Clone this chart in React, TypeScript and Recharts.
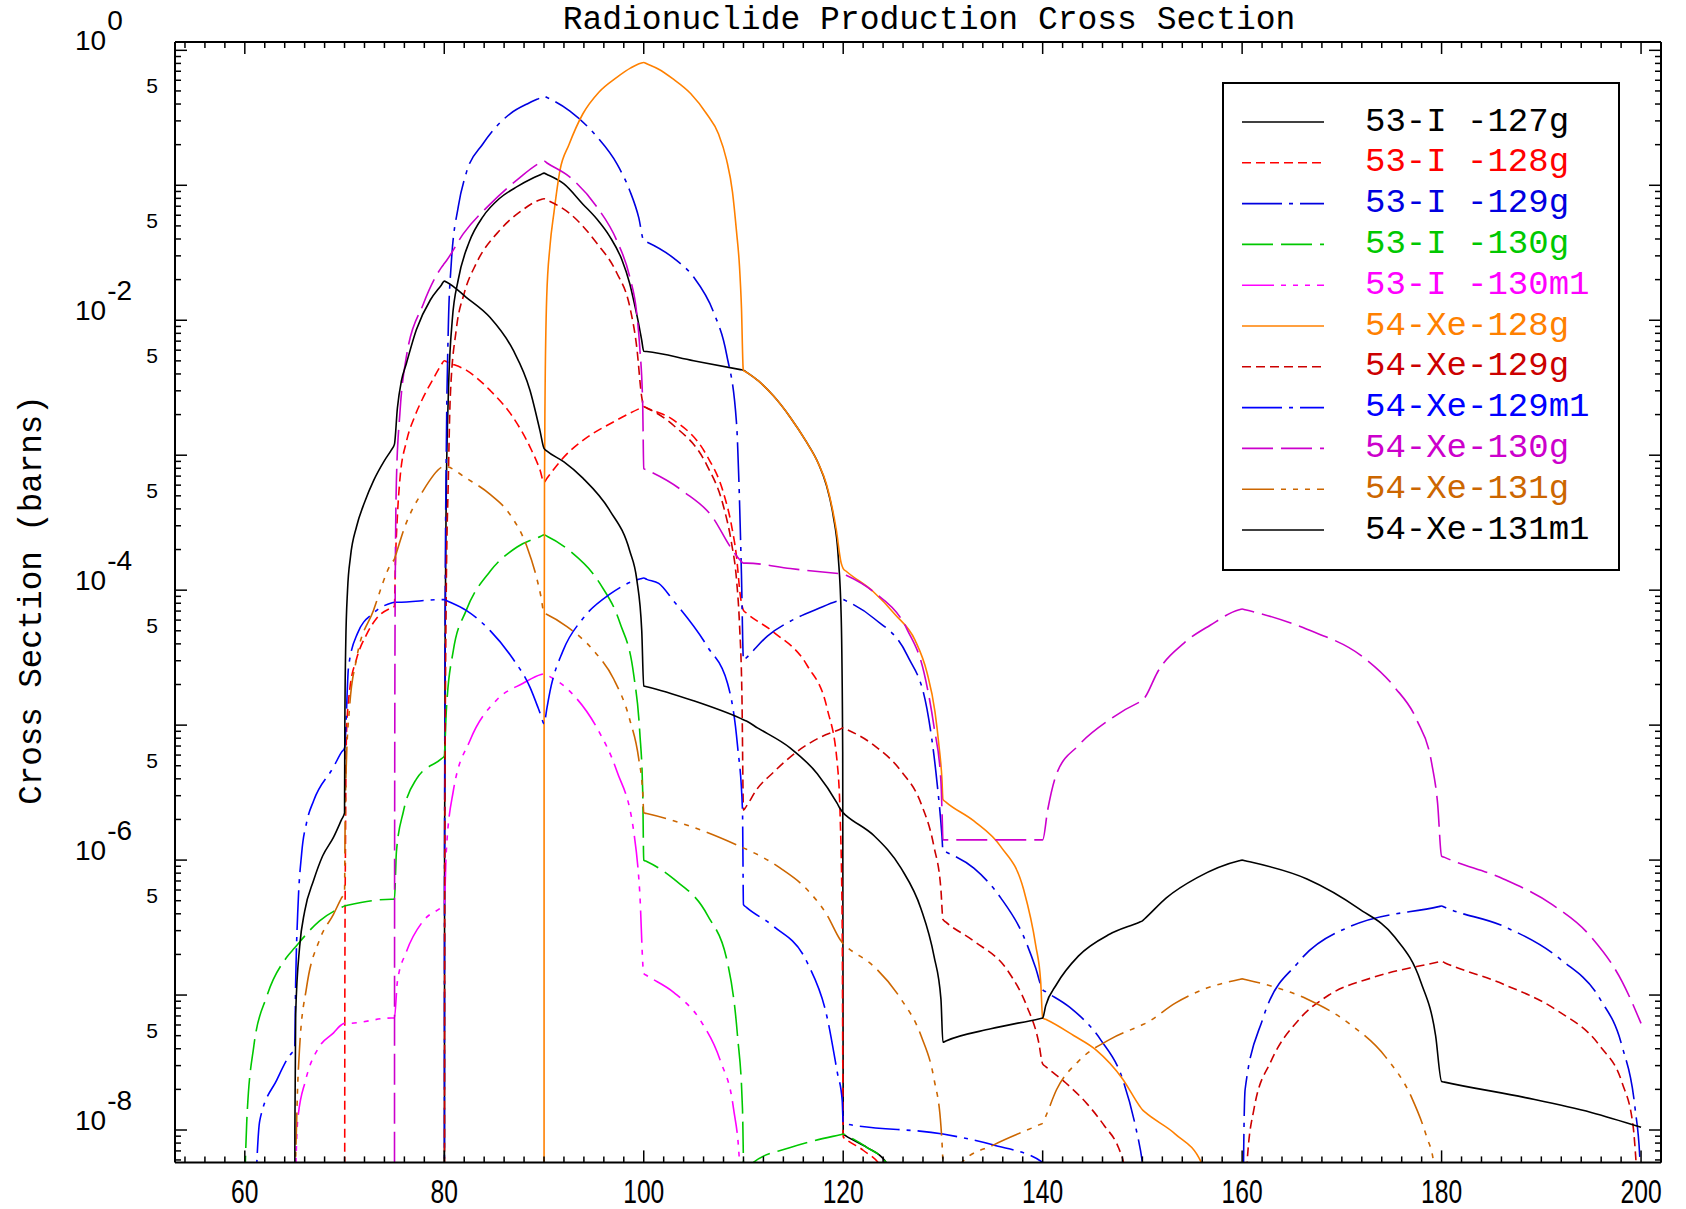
import React from "react";
import { LineChart, Line, XAxis, YAxis, Legend } from "recharts";

// Energy vs log10(cross section in barns).
// A value of -12 sits far below the axis floor (clipped) and only closes a curve off.
const I127G = [
  [80, -12], [80.03, -6], [80.1, -4.2], [80.2, -3.3], [80.4, -2.57], [80.8, -2.0], [81.4, -1.7], [82.5, -1.42],
  [83.9, -1.23], [85.5, -1.1], [87.3, -1.01], [88.8, -0.95], [89.7, -0.92], [90, -0.91],
  [90.3, -0.92], [92, -0.99], [93.9, -1.14], [95.3, -1.25], [96.6, -1.38], [97.8, -1.55], [98.6, -1.73], [99.1, -1.89],
  [99.5, -2.03], [99.8, -2.15], [100, -2.23],
  [100.3, -2.232], [105, -2.3], [109.7, -2.366], [110, -2.37],
  [110.3, -2.385], [111.5, -2.45], [113, -2.56], [114.7, -2.72], [116.3, -2.9], [117.5, -3.06], [118.3, -3.22], [119, -3.45],
  [119.5, -3.75], [119.8, -4.2], [119.95, -5.2], [120, -8.03],
  [120.3, -8.045], [122.4, -8.13], [124.3, -8.24], [125.5, -8.5],
];

const I128G = [
  [70, -12], [70.03, -7], [70.1, -5.8], [70.2, -5.05], [70.5, -4.75], [71.2, -4.51], [72.2, -4.33], [73.2, -4.21],
  [74.7, -4.13], [75, -4.12],
  [75.1, -3.8], [75.3, -3.45], [75.55, -3.18], [76.2, -2.9], [77, -2.72], [77.9, -2.57], [79, -2.42], [79.7, -2.33], [80, -2.3],
  [80.3, -2.31], [82.2, -2.37], [84.6, -2.52], [86.9, -2.72], [88.6, -2.94], [89.6, -3.11], [90, -3.2],
  [90.3, -3.17], [92.3, -2.99], [93.9, -2.89], [97.3, -2.74], [99.7, -2.65], [100, -2.64],
  [100.3, -2.65], [103, -2.74], [106.3, -3.0], [108, -3.28], [108.8, -3.52], [109.3, -3.75], [109.7, -4.05], [110, -4.15],
  [110.3, -4.17], [113, -4.31], [116.4, -4.56], [118.4, -4.88], [119.4, -5.28], [119.7, -5.69], [119.9, -6.49], [120, -8.05],
  [120.3, -8.07], [122, -8.15], [124, -8.3], [125, -8.5],
];

const I129G = [
  [80, -12], [80.03, -6], [80.1, -4], [80.2, -3], [80.4, -2.07], [80.7, -1.58], [81.4, -1.16], [82.2, -0.91],
  [83.9, -0.69], [86.6, -0.47], [88.5, -0.39], [89.7, -0.35], [90, -0.34],
  [90.3, -0.35], [92.6, -0.45], [95.3, -0.64], [97.3, -0.84], [98.6, -1.04], [99.5, -1.24], [100, -1.41],
  [100.3, -1.42], [103, -1.54], [105, -1.68], [107, -1.94], [108.3, -2.25], [109.3, -2.76], [109.6, -3.33], [109.8, -3.89], [110, -4.52],
  [110.3, -4.5], [112.4, -4.34], [114.7, -4.23], [117.4, -4.14], [119.7, -4.075], [120, -4.07],
  [120.3, -4.08], [123.1, -4.21], [126.4, -4.48], [128.4, -4.88], [129.4, -5.42], [129.9, -5.82], [130, -5.93],
  [130.3, -5.94], [133.1, -6.06], [135.8, -6.28], [138, -6.55], [139.3, -6.8], [140, -6.96],
  [140.3, -6.975], [142.7, -7.09], [145.8, -7.33], [148, -7.62], [149.3, -7.97], [150, -8.24], [151, -9],
  [160, -12], [160.05, -9], [160.3, -7.7], [162.1, -7.17], [165.6, -6.76], [170.9, -6.49], [179.7, -6.345], [180, -6.34],
  [180.3, -6.35], [186.2, -6.49], [192, -6.74], [195.9, -7.03], [198.1, -7.38], [199.4, -7.84], [199.9, -8.24], [200, -9],
];

const I130G = [
  [59.8, -9], [60.2, -7.93], [60.9, -7.38], [62.2, -7.01], [64.2, -6.72], [65, -6.65], [67.5, -6.45],
  [69.7, -6.35], [70, -6.34], [70.3, -6.335], [74.7, -6.29], [75, -6.29],
  [75.2, -5.94], [75.9, -5.64], [77.2, -5.4], [79.7, -5.25], [80, -5.23],
  [80.2, -4.9], [80.9, -4.45], [82.2, -4.15], [84.6, -3.86], [87.3, -3.68], [89.7, -3.6], [90, -3.59],
  [90.3, -3.6], [92.6, -3.71], [95.6, -3.95], [97.6, -4.24], [99, -4.63], [99.6, -5.05], [99.9, -5.5], [100, -6.0],
  [100.3, -6.01], [103, -6.14], [106.4, -6.41], [108.4, -6.76], [109.4, -7.3], [109.9, -7.84], [110, -8.24], [110.2, -9],
  [111, -8.24], [114.7, -8.13], [119.7, -8.035], [120, -8.03],
  [120.3, -8.04], [122.4, -8.13], [124.3, -8.24], [125, -8.4],
];

const I130M1 = [
  [64.9, -9], [65.3, -7.93], [66.1, -7.63], [67.5, -7.38], [68.9, -7.28], [69.7, -7.22], [70, -7.21],
  [70.3, -7.21], [74.7, -7.17], [75, -7.17],
  [75.3, -6.9], [76.2, -6.68], [77.9, -6.45], [79.7, -6.35], [80, -6.33],
  [80.2, -5.94], [80.9, -5.49], [82.6, -5.11], [85.3, -4.81], [87.9, -4.69], [89.7, -4.625], [90, -4.62],
  [90.3, -4.63], [92.6, -4.75], [95.3, -5.02], [97.3, -5.34], [99, -5.79], [99.6, -6.24], [100, -6.84],
  [100.3, -6.855], [103, -6.98], [105.7, -7.19], [107.7, -7.49], [109, -7.84], [109.6, -8.24], [110, -9],
];

const XE128G = [
  [90, -12], [90.01, -5], [90.05, -3.2], [90.1, -2.6], [90.27, -1.83], [90.6, -1.45], [91, -1.2], [91.6, -0.89],
  [92.5, -0.7], [93.9, -0.47], [95.5, -0.31], [97.3, -0.2], [98.7, -0.13], [99.7, -0.095], [100, -0.09],
  [100.3, -0.1], [101.5, -0.14], [102.9, -0.21], [104.7, -0.32], [106.3, -0.47], [107.5, -0.62], [108.3, -0.81], [108.9, -1.05],
  [109.3, -1.34], [109.6, -1.6], [109.8, -1.91], [109.97, -2.36], [110, -2.37],
  [110.3, -2.385], [111.5, -2.45], [113, -2.56], [114.7, -2.72], [116.3, -2.9], [117.5, -3.06], [118.3, -3.21], [119.3, -3.55],
  [119.8, -3.8], [120, -3.84],
  [120.3, -3.86], [123, -4.01], [125.2, -4.18], [127.2, -4.37], [128.4, -4.61], [129.2, -4.9], [129.6, -5.15], [129.9, -5.4], [130, -5.55],
  [130.3, -5.57], [133.1, -5.71], [135.8, -5.9], [138.1, -6.22], [139.3, -6.63], [139.8, -6.9], [140, -7.17],
  [140.3, -7.18], [143.1, -7.3], [145.4, -7.41], [148, -7.62], [149.7, -7.82], [150, -7.85],
  [150.3, -7.87], [153.3, -8.03], [155.9, -8.24], [157, -8.6],
];

const XE129G = [
  [80, -12], [80.05, -6], [80.2, -4], [80.4, -3.2], [80.6, -2.57], [81.2, -2.07], [82, -1.8], [83.2, -1.58],
  [85.6, -1.33], [87.9, -1.18], [89.7, -1.105], [90, -1.1],
  [90.3, -1.11], [92.6, -1.21], [95.3, -1.43], [97.3, -1.65], [98.6, -1.9], [99.3, -2.2], [99.8, -2.57], [100, -2.64],
  [100.3, -2.65], [103, -2.78], [106.3, -3.07], [108, -3.38], [108.8, -3.65], [109.3, -3.92], [109.6, -4.25], [109.85, -4.8], [110, -5.63],
  [110.3, -5.6], [111.3, -5.48], [113, -5.35], [115.3, -5.2], [117.7, -5.09], [119.7, -5.03], [120, -5.02],
  [120.3, -5.03], [123.1, -5.15], [125.8, -5.34], [127.8, -5.58], [129.1, -5.9], [129.8, -6.22], [130, -6.44],
  [130.3, -6.46], [133.1, -6.6], [136.5, -6.82], [138.4, -7.08], [139.6, -7.35], [140, -7.51],
  [140.3, -7.53], [142.3, -7.65], [144.5, -7.81], [146.2, -7.97], [147.6, -8.13], [148.1, -8.24], [149, -8.8],
  [160, -12], [160.1, -9], [160.5, -8.24], [161.2, -7.84], [162.9, -7.49], [165.6, -7.19], [168.7, -7.0],
  [173.1, -6.87], [179.7, -6.755], [180, -6.75],
  [180.3, -6.76], [186.2, -6.92], [191.5, -7.11], [195.9, -7.38], [198.1, -7.65], [199.2, -7.97], [199.5, -8.24], [200, -9],
];

const XE129M1 = [
  [61, -8.6], [61.5, -7.93], [63.2, -7.63], [64.7, -7.43], [65, -7.41],
  [65.1, -6.9], [65.3, -6.4], [65.7, -5.95], [66.2, -5.72], [66.9, -5.56], [68.9, -5.31], [69.7, -5.2], [70, -5.17],
  [70.4, -4.57], [71.3, -4.32], [72.9, -4.17], [74.7, -4.095], [75, -4.09],
  [75.3, -4.09], [79.7, -4.07], [80, -4.07],
  [80.3, -4.08], [82.2, -4.15], [84.6, -4.3], [86.9, -4.51], [88.6, -4.72], [89.4, -4.87], [89.7, -4.93], [90, -4.99],
  [90.3, -4.87], [90.6, -4.75], [91.9, -4.45], [93.9, -4.21], [96.6, -4.03], [99.7, -3.915], [100, -3.91],
  [100.3, -3.92], [101.5, -3.95], [103, -4.08], [106.4, -4.42], [108.4, -4.69], [109.4, -5.15], [109.9, -5.63], [110, -6.33],
  [110.3, -6.35], [113, -6.49], [116.4, -6.76], [118.4, -7.17], [119.4, -7.57], [119.9, -7.78], [120, -7.95],
  [120.3, -7.955], [130, -8.03], [135, -8.11], [140, -8.24], [142, -8.6],
];

const XE130G = [
  [75, -12], [75.02, -6], [75.08, -4], [75.2, -3.19], [75.55, -2.69], [76.2, -2.27], [77.9, -1.88], [79.7, -1.61], [80, -1.58],
  [80.3, -1.55], [81.9, -1.36], [84.6, -1.14], [87.3, -0.96], [89.7, -0.83], [90, -0.82],
  [90.3, -0.835], [92.6, -0.94], [95.3, -1.16], [97.3, -1.41], [98.6, -1.68], [99.3, -1.95], [99.6, -2.2], [99.9, -2.64], [100, -3.1],
  [100.3, -3.11], [104, -3.27], [107, -3.47], [108.6, -3.67], [109.7, -3.78], [110, -3.8],
  [110.3, -3.8], [114.7, -3.84], [119.7, -3.878], [120, -3.88],
  [120.3, -3.89], [123, -4.01], [126.4, -4.29], [128.1, -4.61], [129.1, -5.01], [129.8, -5.42], [129.93, -5.69], [130, -5.85],
  [139.7, -5.85], [140, -5.85],
  [140.5, -5.63], [141.4, -5.36], [143.6, -5.15], [146.7, -4.96], [149.7, -4.83], [150, -4.82],
  [150.3, -4.79], [151.5, -4.61], [154.2, -4.39], [156.8, -4.26], [159.7, -4.145], [160, -4.14],
  [160.3, -4.145], [166.5, -4.29], [172.2, -4.5], [175.3, -4.72], [177.5, -4.96], [179, -5.28], [179.6, -5.58], [180, -5.97],
  [180.3, -5.98], [186.2, -6.14], [191.1, -6.33], [195, -6.57], [198.1, -6.9], [200, -7.21],
];

const XE131G = [
  [65, -12], [65.05, -8.5], [65.2, -7.93], [65.5, -7.38], [66.2, -6.94], [67.5, -6.59], [68.9, -6.4], [69.7, -6.28], [70, -6.24],
  [70.05, -5.8], [70.15, -5.35], [70.5, -4.87], [71.2, -4.51], [72.9, -4.15], [74.7, -3.8], [75, -3.77],
  [75.3, -3.7], [75.9, -3.56], [77.9, -3.26], [79.7, -3.09], [80, -3.08],
  [80.3, -3.085], [82.2, -3.17], [84.6, -3.29], [86.6, -3.44], [88.3, -3.68], [89.3, -3.92], [89.7, -4.05], [90, -4.17],
  [90.3, -4.18], [92.3, -4.27], [95, -4.45], [97, -4.66], [98.6, -4.96], [99.5, -5.25], [99.9, -5.5], [100, -5.65],
  [100.3, -5.655], [104.7, -5.75], [109.7, -5.9], [110, -5.91],
  [110.3, -5.92], [113.7, -6.06], [116.4, -6.22], [118.4, -6.41], [119.7, -6.59], [120, -6.62],
  [120.3, -6.64], [123.1, -6.79], [125.8, -7.03], [127.8, -7.3], [129.1, -7.62], [129.8, -7.97], [130, -8.24], [130.3, -9],
  [131.5, -8.5], [131.9, -8.24], [135.1, -8.11], [139.7, -7.96], [140, -7.95],
  [140.3, -7.9], [141.4, -7.7], [143.6, -7.49], [146.7, -7.33], [149.7, -7.23], [150, -7.22],
  [150.3, -7.21], [153.3, -7.06], [156.4, -6.95], [159.7, -6.885], [160, -6.88],
  [160.3, -6.885], [166.5, -7.03], [170.9, -7.22], [174.4, -7.46], [177, -7.76], [178.5, -8.05], [179.2, -8.24], [179.6, -9],
];

const XE131M1 = [
  [65, -12], [65.02, -8], [65.1, -7.14], [65.5, -6.64], [66, -6.38], [66.9, -6.15], [67.8, -5.97], [68.9, -5.83], [69.7, -5.7], [70, -5.65],
  [70.03, -5.0], [70.12, -4.4], [70.3, -4.0], [70.6, -3.75], [71.2, -3.53], [72, -3.35], [72.9, -3.19], [74, -3.04], [74.7, -2.96], [75, -2.92],
  [75.3, -2.65], [75.7, -2.45], [76.2, -2.32], [77.2, -2.07], [78.6, -1.85], [79.7, -1.74], [80, -1.71],
  [80.3, -1.72], [82.2, -1.83], [84.6, -1.98], [86.9, -2.22], [88.6, -2.52], [89.6, -2.82], [90, -2.95],
  [90.3, -2.97], [92, -3.05], [93.9, -3.17], [96.6, -3.41], [98.6, -3.71], [99.3, -3.92], [99.8, -4.3], [100, -4.71],
  [100.3, -4.715], [105, -4.82], [109.7, -4.95], [110, -4.96],
  [110.3, -4.97], [111.4, -5.02], [114.7, -5.17], [117.4, -5.36], [119.4, -5.58], [119.7, -5.62], [120, -5.65],
  [120.3, -5.67], [123.1, -5.82], [125.8, -6.06], [127.8, -6.36], [129.1, -6.71], [129.8, -7.03], [130, -7.35],
  [130.3, -7.34], [134.8, -7.25], [139.7, -7.175], [140, -7.17],
  [140.3, -7.08], [141.4, -6.92], [143.6, -6.71], [146.7, -6.55], [149.7, -6.46], [150, -6.45],
  [150.3, -6.43], [152.4, -6.28], [155.5, -6.13], [159.7, -6.005], [160, -6.0],
  [160.3, -6.005], [166.5, -6.14], [171.7, -6.36], [175.3, -6.57], [177.9, -6.9], [179.4, -7.3], [180, -7.64],
  [180.3, -7.645], [188.4, -7.76], [195, -7.87], [200, -7.98],
];

const SOLID = undefined;
const DASHED = "9 5";
const DASH_DOT = "40 7 4 7";
const LONG_DASH = "31 8";
const DASH_DOT3 = "32 7 5 7 5 7 5 7";

const SERIES = [
  { name: "53-I -127g", data: I127G, color: "#000000", dash: SOLID },
  { name: "53-I -128g", data: I128G, color: "#ff0000", dash: DASHED },
  { name: "53-I -129g", data: I129G, color: "#0000e0", dash: DASH_DOT },
  { name: "53-I -130g", data: I130G, color: "#00c800", dash: LONG_DASH },
  { name: "53-I -130m1", data: I130M1, color: "#ff00ff", dash: DASH_DOT3 },
  { name: "54-Xe-128g", data: XE128G, color: "#ff8000", dash: SOLID },
  { name: "54-Xe-129g", data: XE129G, color: "#cc0000", dash: DASHED },
  { name: "54-Xe-129m1", data: XE129M1, color: "#0000ff", dash: DASH_DOT },
  { name: "54-Xe-130g", data: XE130G, color: "#cc00cc", dash: LONG_DASH },
  { name: "54-Xe-131g", data: XE131G, color: "#cc6600", dash: DASH_DOT3 },
  { name: "54-Xe-131m1", data: XE131M1, color: "#000000", dash: SOLID },
];

const X_LABELS = [60, 80, 100, 120, 140, 160, 180, 200];
const X_TICKS = Array.from({ length: 75 }, (_, i) => 54 + 2 * i);
const DECADES = [-9, -8, -7, -6, -5, -4, -3, -2, -1, 0];
const MANTISSAS = [1, 2, 3, 4, 5, 6, 7, 8, 9];

const Y_MIN = 5.754e-9;
const Y_MAX = 1.1526;
const Y_TICKS = DECADES.flatMap((k) => MANTISSAS.map((m) => m * Math.pow(10, k))).filter(
  (v) => v >= Y_MIN && v <= Y_MAX
);

const toPoints = (rows: number[][]) => rows.map(([x, l]) => ({ x, y: Math.pow(10, l) }));

function decode(v: number) {
  const k = Math.floor(Math.log10(v) + 1e-6);
  const m = Math.round(v / Math.pow(10, k));
  return { k, m };
}

function BottomTick({ x, y, payload }: any) {
  const v = payload.value;
  const major = X_LABELS.includes(v);
  return (
    <g>
      <line x1={x} x2={x} y1={y} y2={y - (major ? 12 : 6)} stroke="#000" strokeWidth={1.5} />
      {major && (
        <text
          x={x}
          y={y + 41}
          textAnchor="middle"
          fontFamily="Liberation Sans"
          fontSize={33}
          textLength={13.7 * String(v).length}
          lengthAdjust="spacingAndGlyphs"
        >
          {v}
        </text>
      )}
    </g>
  );
}

function TopTick({ x, y, payload }: any) {
  const major = X_LABELS.includes(payload.value);
  return <line x1={x} x2={x} y1={y} y2={y + (major ? 12 : 6)} stroke="#000" strokeWidth={1.5} />;
}

// decade label: "10" with a raised exponent (minus sign sits just before the digit)
function LeftTick({ x, y, payload }: any) {
  const { k, m } = decode(payload.value);
  const len = m === 1 ? 12 : 6;
  return (
    <g>
      <line x1={x} x2={x + len} y1={y} y2={y} stroke="#000" strokeWidth={1.5} />
      {m === 1 && k % 2 === 0 && (
        <text x={x - 100} y={y} fontFamily="Liberation Sans" fontSize={28}>
          {k < 0 ? `10` : `10`}
          <tspan dx={1} dy={-20}>{k < 0 ? `-${-k}` : String(k)}</tspan>
        </text>
      )}
      {m === 5 && (
        <text x={x - 17} y={y + 2} textAnchor="end" fontFamily="Liberation Sans" fontSize={21}>
          5
        </text>
      )}
    </g>
  );
}

function RightTick({ x, y, payload }: any) {
  const { m } = decode(payload.value);
  return <line x1={x} x2={x - (m === 1 ? 12 : 6)} y1={y} y2={y} stroke="#000" strokeWidth={1.5} />;
}

function YTitle() {
  return (
    <text
      x={41}
      y={600}
      transform="rotate(-90 41 600)"
      textAnchor="middle"
      fontFamily="Liberation Mono"
      fontSize={32.5}
    >
      Cross Section (barns)
    </text>
  );
}

function ChartTitle() {
  return (
    <text x={929} y={29} textAnchor="middle" fontFamily="Liberation Mono" fontSize={33}>
      Radionuclide Production Cross Section
    </text>
  );
}

function LegendBox() {
  return (
    <div
      style={{
        width: 398,
        height: 489,
        border: "2px solid #000",
        boxSizing: "border-box",
        background: "#fff",
      }}
    >
      <svg width={394} height={485} style={{ display: "block" }}>
        {SERIES.map((s, i) => {
          const y = 38 + i * 40.8;
          return (
            <g key={s.name}>
              <line x1={18} x2={100} y1={y} y2={y} stroke={s.color} strokeWidth={1.6} strokeDasharray={s.dash} />
              <text
                x={141}
                y={y + 8.5}
                fill={s.color}
                fontFamily="Liberation Mono"
                fontSize={34}
                style={{ whiteSpace: "pre" }}
              >
                {s.name}
              </text>
            </g>
          );
        })}
      </svg>
    </div>
  );
}

export default function App() {
  return (
    <div style={{ position: "absolute", left: 0, top: 0, background: "#fff" }}>
      <LineChart width={1686} height={1209} margin={{ top: 40, right: 23, bottom: 0, left: 0 }}>
        <XAxis
          xAxisId="b"
          dataKey="x"
          type="number"
          domain={[53, 202]}
          allowDataOverflow
          ticks={X_TICKS}
          interval={0}
          height={46.6}
          tickSize={0}
          tickMargin={0}
          tickLine={false}
          axisLine={{ stroke: "#000", strokeWidth: 2 }}
          tick={<BottomTick />}
        />
        <XAxis
          xAxisId="t"
          orientation="top"
          dataKey="x"
          type="number"
          domain={[53, 202]}
          allowDataOverflow
          ticks={X_TICKS}
          interval={0}
          height={2}
          tickSize={0}
          tickMargin={0}
          tickLine={false}
          axisLine={{ stroke: "#000", strokeWidth: 2 }}
          tick={<TopTick />}
          label={<ChartTitle />}
        />
        <YAxis
          yAxisId="l"
          type="number"
          scale="log"
          domain={[Y_MIN, Y_MAX]}
          allowDataOverflow
          ticks={Y_TICKS}
          interval={0}
          width={175}
          tickSize={0}
          tickMargin={0}
          tickLine={false}
          axisLine={{ stroke: "#000", strokeWidth: 2 }}
          tick={<LeftTick />}
          label={<YTitle />}
        />
        <YAxis
          yAxisId="r"
          orientation="right"
          type="number"
          scale="log"
          domain={[Y_MIN, Y_MAX]}
          allowDataOverflow
          ticks={Y_TICKS}
          interval={0}
          width={2}
          tickSize={0}
          tickMargin={0}
          tickLine={false}
          axisLine={{ stroke: "#000", strokeWidth: 2 }}
          tick={<RightTick />}
        />
        <Legend
          layout="horizontal"
          verticalAlign="middle"
          align="center"
          wrapperStyle={{ position: "absolute", left: 1222, top: 82, width: 398, height: 489 }}
          content={() => <LegendBox />}
        />
        {SERIES.map((s) => (
          <Line
            key={s.name}
            name={s.name}
            xAxisId="b"
            yAxisId="l"
            data={toPoints(s.data)}
            dataKey="y"
            type="monotone"
            stroke={s.color}
            strokeWidth={1.6}
            strokeDasharray={s.dash}
            dot={false}
            activeDot={false}
            isAnimationActive={false}
          />
        ))}
      </LineChart>
    </div>
  );
}
